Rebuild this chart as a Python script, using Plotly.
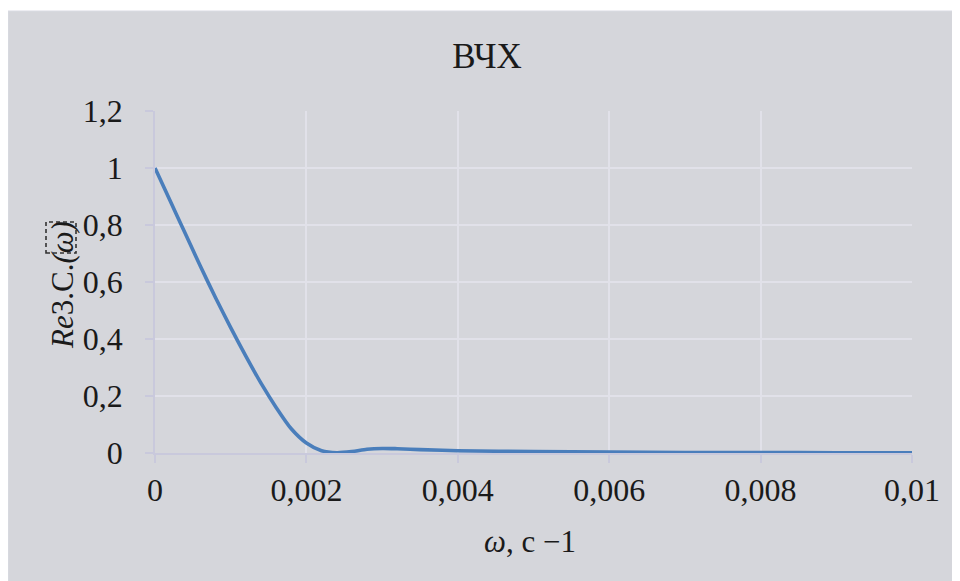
import plotly.graph_objects as go

omega = [0, 0.0002, 0.0004, 0.0006, 0.0008, 0.001, 0.0012, 0.0014, 0.0016, 0.0018,
         0.002, 0.0022, 0.0024, 0.0026, 0.0028, 0.003, 0.0032, 0.0035, 0.004,
         0.005, 0.006, 0.007, 0.008, 0.009, 0.01]
re_val = [1.0, 0.885, 0.77, 0.655, 0.545, 0.44, 0.34, 0.245, 0.16, 0.085,
          0.035, 0.008, 0.001, 0.005, 0.013, 0.016, 0.015, 0.012, 0.008,
          0.005, 0.003, 0.002, 0.0015, 0.001, 0.001]

x_ticks = [0, 0.002, 0.004, 0.006, 0.008, 0.01]
x_labels = ["0", "0,002", "0,004", "0,006", "0,008", "0,01"]
y_ticks = [0, 0.2, 0.4, 0.6, 0.8, 1.0, 1.2]
y_labels = ["0", "0,2", "0,4", "0,6", "0,8", "1", "1,2"]

title_text = "ВЧХ"
x_title = "<i>ω</i>, с −1"
y_title = "<i>Re</i>3.С.<i>(ω)</i>"

BG = "#D5D6DB"
GRID = "#E1E1E9"
AXIS = "#C9C9DC"
FONT = "Liberation Serif, Times New Roman, serif"
TXT = "#1a1a1a"

# page offset (body margin) between screen and figure pixels
OFF = 8
W, H = 960, 581
L, R, T, B = 155 - OFF, W - (912 - OFF), 111 - OFF, H - (453 - OFF)
pw, ph = W - L - R, H - T - B


def px_x(screen):
    return (screen - OFF - L) / pw


def px_y(screen):
    return (H - B - (screen - OFF)) / ph


fig = go.Figure()
fig.add_trace(go.Scatter(x=omega, y=re_val, mode="lines",
                         line=dict(color="#4A7EBB", width=3.6, shape="spline", smoothing=0.8),
                         showlegend=False, hoverinfo="skip"))

fig.add_shape(type="rect", xref="paper", yref="paper", layer="below",
              x0=px_x(8), x1=px_x(975), y0=px_y(600), y1=px_y(11),
              fillcolor=BG, line=dict(width=1, color="#DADBE4"))

fig.update_layout(
    width=W, height=H,
    margin=dict(l=L, r=R, t=T, b=B),
    paper_bgcolor="white", plot_bgcolor="rgba(0,0,0,0)",
    font=dict(family=FONT, size=32, color=TXT),
    title=dict(text=title_text, x=px_x(487), xref="paper", xanchor="center",
               y=1 - (56 - OFF) / H, yanchor="middle", font=dict(size=35, family=FONT, color=TXT)),
)
fig.update_xaxes(range=[0, 0.01], tickvals=x_ticks, ticktext=x_labels,
                 showgrid=True, gridcolor=GRID, gridwidth=1.5,
                 showline=True, linecolor=AXIS, linewidth=1.5,
                 ticks="outside", ticklen=8, tickcolor=AXIS, tickwidth=1.5,
                 ticklabelstandoff=0, zeroline=False,
                 tickfont=dict(size=32, family=FONT, color=TXT))
fig.update_yaxes(range=[0, 1.2], tickvals=y_ticks, ticktext=y_labels,
                 showgrid=True, gridcolor=GRID, gridwidth=1.5,
                 showline=True, linecolor=AXIS, linewidth=1.5,
                 ticks="outside", ticklen=8, tickcolor=AXIS, tickwidth=1.5,
                 ticklabelstandoff=16, zeroline=False,
                 tickfont=dict(size=32, family=FONT, color=TXT))

fig.add_annotation(text=x_title, xref="paper", yref="paper",
                   x=px_x(530), y=px_y(541), xanchor="center", yanchor="middle",
                   showarrow=False, font=dict(size=31, family=FONT, color=TXT))
fig.add_annotation(text=y_title, xref="paper", yref="paper",
                   x=px_x(62), y=px_y(285), xanchor="center", yanchor="middle",
                   showarrow=False, textangle=-90,
                   font=dict(size=31, family=FONT, color=TXT))
# dashed placeholder box drawn over the "(ω)" part of the y title
fig.add_shape(type="rect", xref="paper", yref="paper", layer="above",
              x0=px_x(46), x1=px_x(76), y0=px_y(253), y1=px_y(222),
              line=dict(color="#333333", width=1.6, dash="4px,3px"), fillcolor="rgba(0,0,0,0)")

fig.write_html("out.html")
